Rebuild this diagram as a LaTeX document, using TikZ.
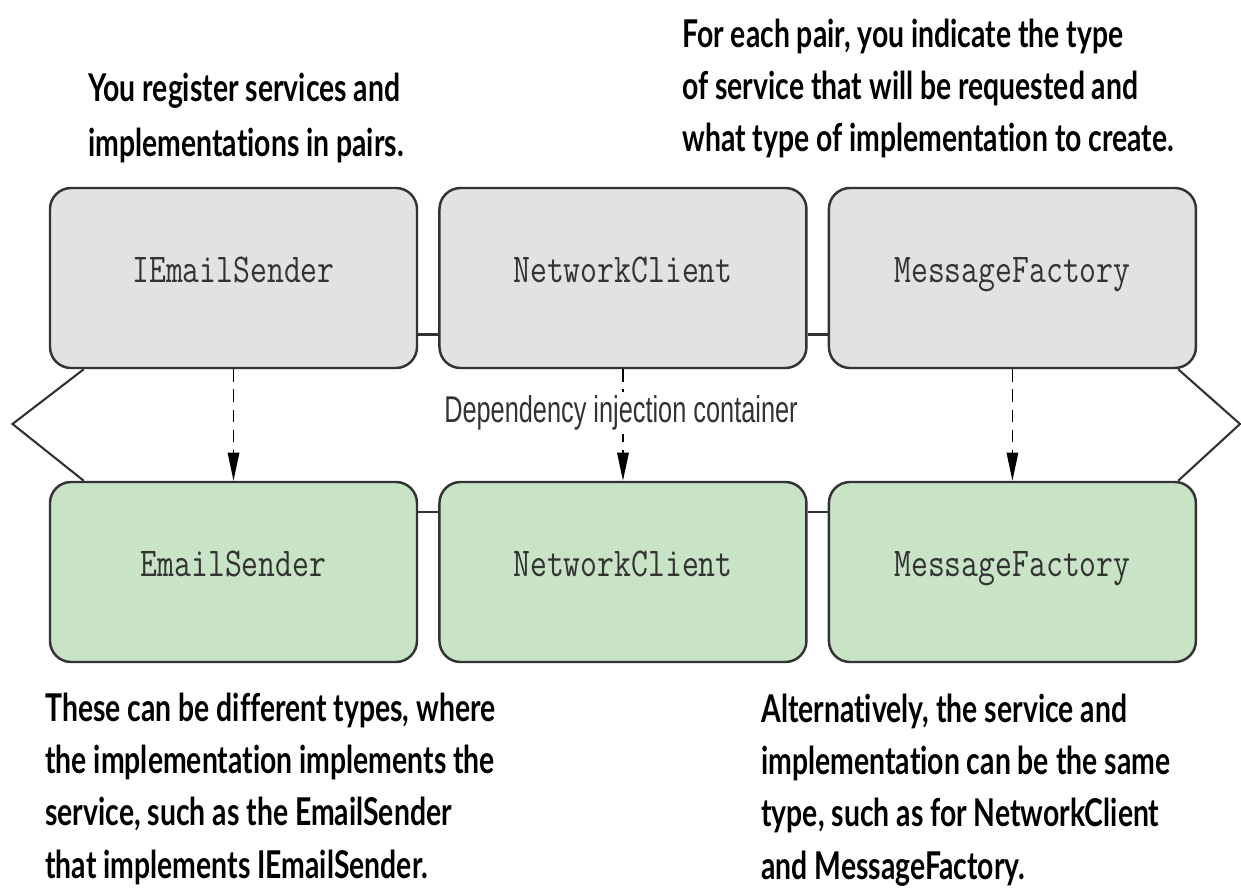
\documentclass[tikz,border=0pt]{standalone}
\usepackage{fontspec}
\newfontfamily\notefont[FakeStretch=0.74, Ligatures=NoCommon]{Lato}
\newfontfamily\boxfont[FakeStretch=0.8]{Latin Modern Mono}
\newfontfamily\labelfont[FakeStretch=0.68]{Liberation Sans}
\usepackage{xcolor}
\definecolor{digrey}{HTML}{E1E2E1}
\definecolor{digreen}{HTML}{C8E3C5}
\definecolor{diline}{HTML}{333333}
\usepackage{tikz}
\usetikzlibrary{arrows.meta, positioning}

\begin{document}
\begin{tikzpicture}[
  typebox/.style={rectangle, rounded corners=12pt, draw=diline, line width=1.4pt,
    minimum width=7.34cm, minimum height=3.6cm, inner sep=0pt,
    text height=0.7em, text depth=0.15em,
    font=\boxfont\fontsize{23.3}{28}\selectfont, text=diline},
  note/.style={anchor=base west, align=left, inner sep=0pt,
    font=\notefont\bfseries\fontsize{21.8}{29.6}\selectfont},
  resolve/.style={-{Triangle[length=16pt, width=6.5pt]}, line width=1pt,
    dash pattern=on 7pt off 4.5pt, black},
  link/.style={line width=1.4pt, diline},
  container/.style={line width=1.2pt, diline}
]
\useasboundingbox (0,0) rectangle (24.82,17.8);
\node[typebox, fill=digrey] (svc1) at (4.67,12.24) {IEmailSender};
\node[typebox, fill=digrey, right=0.4cm of svc1] (svc2) {NetworkClient};
\node[typebox, fill=digrey, right=0.4cm of svc2] (svc3) {MessageFactory};
\node[typebox, fill=digreen] (impl1) at (4.67,6.36) {EmailSender};
\node[typebox, fill=digreen, right=0.4cm of impl1] (impl2) {NetworkClient};
\node[typebox, fill=digreen, right=0.4cm of impl2] (impl3) {MessageFactory};
\draw[link] (svc1.-17) -- (svc2.197);
\draw[link] (svc2.-17) -- (svc3.197);
\draw[link] (impl1.18) -- (impl2.162);
\draw[link] (impl2.18) -- (impl3.162);
% container ends
\coordinate (lefttip) at (0.25,9.32);
\coordinate (righttip) at (24.8,9.32);
\draw[container] ([xshift=0.7cm]svc1.south west) -- (lefttip)
  -- ([xshift=0.7cm]impl1.north west);
\draw[container] ([xshift=-0.38cm]svc3.south east) -- (righttip)
  -- ([xshift=-0.38cm]impl3.north east);
\draw[resolve] (svc1) -- (impl1);
\draw[resolve] (svc2) -- (impl2);
\draw[resolve] (svc3) -- (impl3);
\node[fill=white, inner sep=2pt, anchor=base, text=diline,
  font=\labelfont\fontsize{21.2}{25}\selectfont] (dilabel) at (12.42,9.34)
  {Dependency injection container};
% callouts (anchored at the last line)
\node[note, font=\notefont\bfseries\fontsize{21.8}{31.3}\selectfont] (pairs) at (1.76,14.66)
  {You register services and\\implementations in pairs.};
\node[note] (types) at (13.64,14.76)
  {For each pair, you indicate the type\\of service that will be requested and\\what type of implementation to create.};
\node[note] (differ) at (0.9,0.24)
  {These can be different types, where\\the implementation implements the\\service, such as the EmailSender\\that implements IEmailSender.};
\node[note] (same) at (15.22,0.22)
  {Alternatively, the service and\\implementation can be the same\\type, such as for NetworkClient\\and MessageFactory.};
\end{tikzpicture}
\end{document}
